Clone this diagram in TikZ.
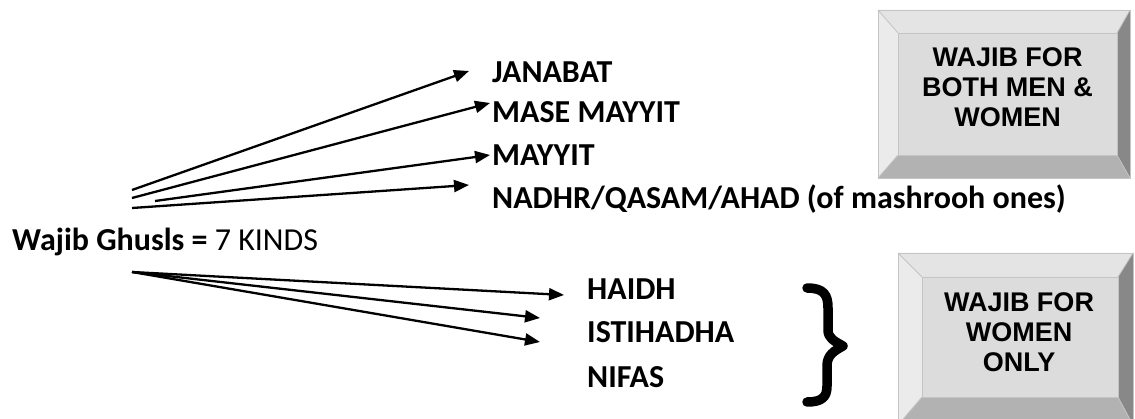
\documentclass[tikz,border=0pt]{standalone}
\usepackage{fontspec}
\setmainfont{Carlito}
\newfontfamily\arialfont{Liberation Sans}
\usetikzlibrary{arrows.meta}
\definecolor{bface}{HTML}{DCDCDC}
\definecolor{btop}{HTML}{E4E4E4}
\definecolor{bleft}{HTML}{EBEBEB}
\definecolor{bright}{HTML}{888888}
\definecolor{bbottom}{HTML}{B2B2B2}
\definecolor{bline}{HTML}{C4C4C4}
\tikzset{
  lbl/.style={anchor=base west, inner sep=0pt, font=\fontsize{32}{38}\selectfont\bfseries},
  arr/.style={line width=2.3pt, -{Triangle[length=15pt,width=12pt]}},
  boxtxt/.style={align=center, inner sep=0pt, font=\arialfont\fontsize{27}{30}\selectfont\bfseries},
}
\newcommand{\bevelbox}[8]{% x1 y1 x2 y2 ix1 iy1 ix2 iy2
  \fill[btop] (#1,#2) -- (#3,#2) -- (#7,#6) -- (#5,#6) -- cycle;
  \fill[bleft] (#1,#2) -- (#5,#6) -- (#5,#8) -- (#1,#4) -- cycle;
  \fill[bright] (#3,#2) -- (#3,#4) -- (#7,#8) -- (#7,#6) -- cycle;
  \fill[bbottom] (#1,#4) -- (#5,#8) -- (#7,#8) -- (#3,#4) -- cycle;
  \fill[bface] (#5,#6) rectangle (#7,#8);
  \draw[bline, line width=0.8pt] (#1,#2) rectangle (#3,#4);
  \draw[bline, line width=0.8pt] (#5,#6) rectangle (#7,#8);
  \draw[bline, line width=0.8pt] (#1,#2) -- (#5,#6) (#3,#2) -- (#7,#6) (#1,#4) -- (#5,#8) (#3,#4) -- (#7,#8);
}
\begin{document}
\begin{tikzpicture}[x=1pt,y=-1pt]
\useasboundingbox (0,0) rectangle (1135,419);
\fill[white] (0,0) rectangle (1135,419);
% boxes
\bevelbox{878}{10}{1130}{178}{898}{33}{1117}{155}
\node[boxtxt] (both) at (1007.5,87) {WAJIB FOR\\BOTH MEN \&\\WOMEN};
\bevelbox{898}{253}{1133}{425}{922}{277}{1118}{397}
\node[boxtxt] (women) at (1019,332) {WAJIB FOR\\WOMEN\\ONLY};
% labels
\node[lbl] (jan) at (492,83) {JANABAT};
\node[lbl] (mase) at (492,123) {MASE MAYYIT};
\node[lbl] (may) at (492,166) {MAYYIT};
\node[lbl] (nadhr) at (492,209) {NADHR/QASAM/AHAD (of mashrooh ones)};
\node[lbl] (wajib) at (12,251) {Wajib Ghusls = \mdseries 7 KINDS};
\node[lbl] (haidh) at (587,300) {HAIDH};
\node[lbl] (isti) at (587,343) {ISTIHADHA};
\node[lbl] (nifas) at (587,388) {NIFAS};
% arrow coordinates
\coordinate (s1) at (132,190);
\coordinate (s2) at (132,198);
\coordinate (s3) at (155,201);
\coordinate (s4) at (132,208);
\coordinate (e1) at (469,71);
\coordinate (e2) at (490,103);
\coordinate (e3) at (490,155);
\coordinate (e4) at (469,185);
\coordinate (s5) at (132,272);
\coordinate (e5) at (564,295);
\coordinate (e6) at (540,318);
\coordinate (e7) at (540,342);
\draw[arr] (s1) -- (e1);
\draw[arr] (s2) -- (e2);
\draw[arr] (s3) -- (e3);
\draw[arr] (s4) -- (e4);
\draw[arr] (s5) -- (e5);
\draw[arr] (s5) -- (e6);
\draw[arr] (s5) -- (e7);
% brace
\draw[line width=9.5pt, line cap=round, line join=round]
  (807,288) .. controls (824,288) and (828,295) .. (828,308)
  -- (828,330) .. controls (828,338) and (834,341) .. (843,346)
  .. controls (834,351) and (827,355) .. (827,366)
  -- (827,386) .. controls (827,397) and (822,402) .. (807,402);
\end{tikzpicture}
\end{document}
